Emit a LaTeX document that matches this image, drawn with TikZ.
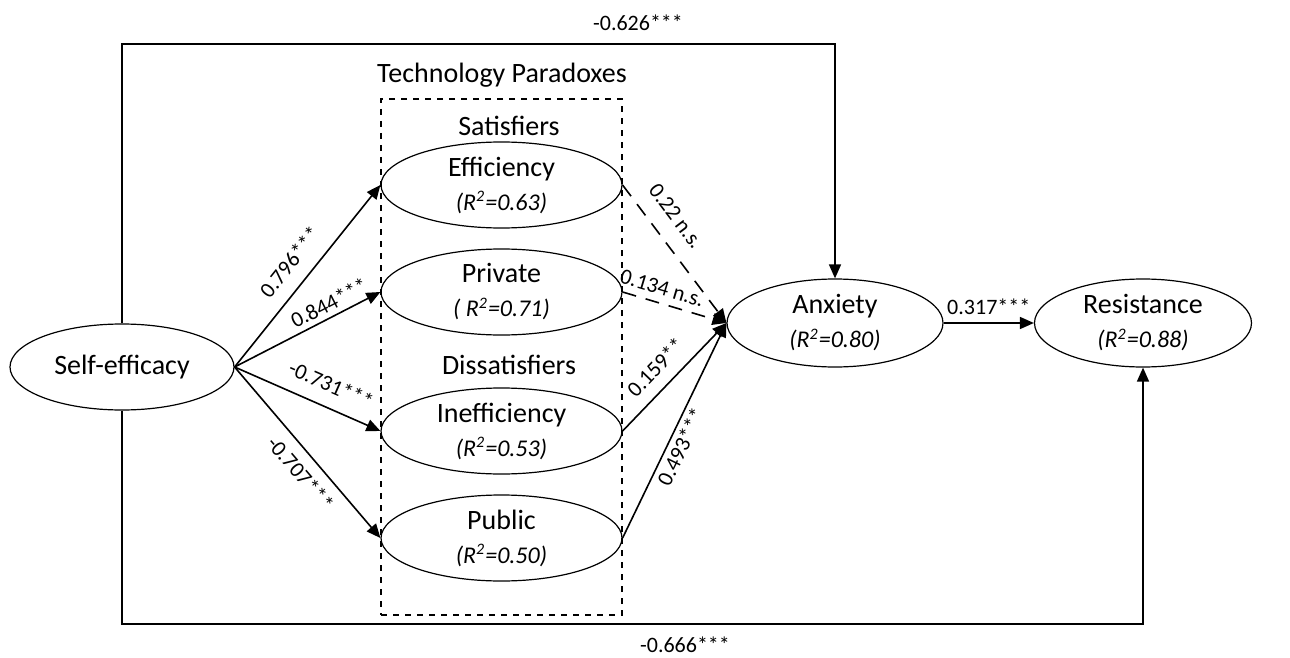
\documentclass[tikz,border=0pt]{standalone}
\usepackage{fontspec}
\setmainfont{Carlito}
\usepackage{tikz}
\usetikzlibrary{arrows.meta,positioning,shapes.geometric}
\newcommand{\rsq}[1]{{\fontsize{12}{14}\selectfont\textit{(R\textsuperscript{2}=#1)}}}

\begin{document}
\begin{tikzpicture}[x=0.5pt, y=-0.5pt, every node/.style={font=\fontsize{14}{17}\selectfont},
  construct/.style={draw, ellipse, line width=0.6pt, inner sep=0pt, align=center, minimum width=120.5pt, minimum height=43pt},
  path/.style={-{Triangle[length=7pt,width=6pt]}, line width=0.8pt},
  nspath/.style={path, dash pattern=on 7pt off 5pt},
  coef/.style={font=\fontsize{11}{13}\selectfont, sloped, inner sep=2pt}]
  \useasboundingbox (0,0) rectangle (1290,658);
  % constructs
  \node[construct, minimum width=112pt] (selfeff) at (122,367) {Self-efficacy};
  \node[construct] (eff) at (501.5,185) {Efficiency\\\rsq{0.63}};
  \node[construct] (priv) at (501.5,292) {Private\\{\fontsize{12}{14}\selectfont\textit{( R\textsuperscript{2}=0.71)}}};
  \node[construct] (ineff) at (501.5,431) {Inefficiency\\\rsq{0.53}};
  \node[construct] (pub) at (501.5,538) {Public\\\rsq{0.50}};
  \node[construct, minimum width=108pt, minimum height=44pt] (anx) at (835,323) {Anxiety\\\rsq{0.80}};
  \node[construct, minimum width=108.5pt, minimum height=44pt] (res) at (1143,323) {Resistance\\\rsq{0.88}};
  % paradox group
  \node[draw, dashed, line width=0.6pt, minimum width=120.5pt, minimum height=258pt, inner sep=0pt] (group) at (501.5,357) {};
  \node (grouptitle) at (502,75) {Technology Paradoxes};
  \node (sat) at (509,126) {Satisfiers};
  \node (dissat) at (509,365) {Dissatisfiers};
  % paths from self-efficacy
  \draw[path] (selfeff.east) -- node[coef, above=5pt, pos=0.5] {0.796***} (eff.west);
  \draw[path] (selfeff.east) -- node[coef, above=0.5pt, pos=0.69] {0.844***} (priv.west);
  \draw[path] (selfeff.east) -- node[coef, above=5pt, pos=0.6] {-0.731***} (ineff.west);
  \draw[path] (selfeff.east) -- node[coef, below=3pt, pos=0.55] {-0.707***} (pub.west);
  % paths to anxiety
  \draw[nspath] (eff.east) -- node[coef, above=6pt, pos=0.33] {0.22 n.s.} (anx.west);
  \draw[nspath] (priv.east) -- node[coef, above=1.5pt, pos=0.34] {0.134 n.s.} (anx.west);
  \draw[path] (ineff.east) -- node[coef, above=4pt, pos=0.46] {0.159**} (anx.west);
  \draw[path] (pub.east) -- node[coef, below, pos=0.45] {0.493***} (anx.west);
  \draw[path] (anx.east) -- node[coef, above=2pt] {0.317***} (res.west);
  % direct paths
  \coordinate (topline) at (122,44);
  \coordinate (botline) at (122,624);
  \draw[path] (selfeff.north) |- (anx.north |- topline) -- (anx.north);
  \draw[path] (selfeff.south) |- (res.south |- botline) -- (res.south);
  \node[coef] (ctop) at (638,23) {-0.626***};
  \node[coef] (cbot) at (685,645) {-0.666***};
\end{tikzpicture}
\end{document}
